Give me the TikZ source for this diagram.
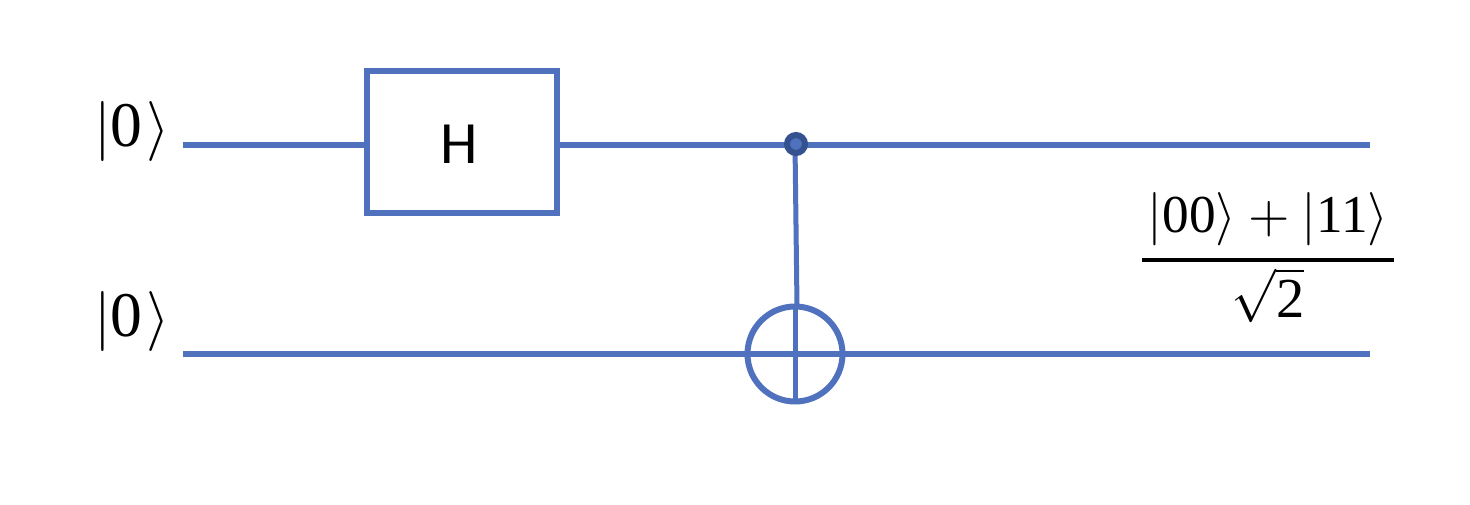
\documentclass[tikz,border=0pt]{standalone}
\usepackage{graphicx}
\usepackage[no-math]{fontspec}
\newfontfamily\gatefont{Carlito}
\newfontfamily\digitfont{Liberation Serif}
\newcommand{\dgk}[1]{\mbox{\digitfont\fontsize{10.6}{12}\selectfont #1}}
\newcommand{\dgf}[1]{\mbox{\digitfont\fontsize{10}{12}\selectfont #1}}
\newcommand{\dgr}[1]{\mbox{\digitfont\fontsize{10.6}{12}\selectfont #1}}
\definecolor{wire}{HTML}{4F71BE}
\definecolor{ring}{HTML}{34528F}
\tikzset{
  wireline/.style={draw=wire,line width=6pt},
  gatebox/.style={draw=wire,line width=6pt,minimum width=190pt,minimum height=142pt,inner sep=0pt,outer sep=0pt},
  ctrldot/.style={circle,draw=ring,fill=wire,line width=6pt,minimum size=18pt,inner sep=0pt,outer sep=0pt},
  targetring/.style={circle,draw=wire,line width=6pt,minimum size=95pt,inner sep=0pt,outer sep=0pt},
  lbl/.style={inner sep=0pt,outer sep=0pt,text=black}
}
\begin{document}
\begin{tikzpicture}[x=1pt,y=-1pt]
\useasboundingbox (0,0) rectangle (1470,504);
\fill[white] (0,0) rectangle (1470,504);
\coordinate (w1s) at (183,145);
\coordinate (w1e) at (1370,145);
\coordinate (w2s) at (183,354);
\coordinate (w2e) at (1370,354);
\node[gatebox] (h) at (462,142) {};
\node[lbl,font=\gatefont\fontsize{60}{66}\selectfont] (hl) at (459.5,144) {H};
\node[targetring] (t) at (795,354) {};
\draw[wireline] (w1s) -- (w1s -| h.west);
\draw[wireline] (w1s -| h.east) -- (w1e);
\draw[wireline] (w2s) -- (w2e);
\draw[wireline,line width=5pt] (t.north) -- (t.south);
\coordinate (ct) at (796,144);
\draw[wireline,line width=5pt] (795,144) -- ([xshift=2pt]t.north);
\node[ctrldot] (c) at (ct) {};
\node[lbl] (k1) at (132,131) {\scalebox{6.0}{$|\dgk{0}\kern0.6pt\rangle$}};
\node[lbl] (k2) at (132,321) {\scalebox{6.0}{$|\dgk{0}\kern0.6pt\rangle$}};
\node[lbl] (f) at (1268,251.5) {\scalebox{5.33}{$\displaystyle{\makebox[47.3pt]{$|\dgf{00}\rangle+|\dgf{11}\rangle$} \above 0.75pt \smash{\raisebox{-1.36pt}{$\sqrt{\dgr{2}}$}}}$}};
\end{tikzpicture}
\end{document}
